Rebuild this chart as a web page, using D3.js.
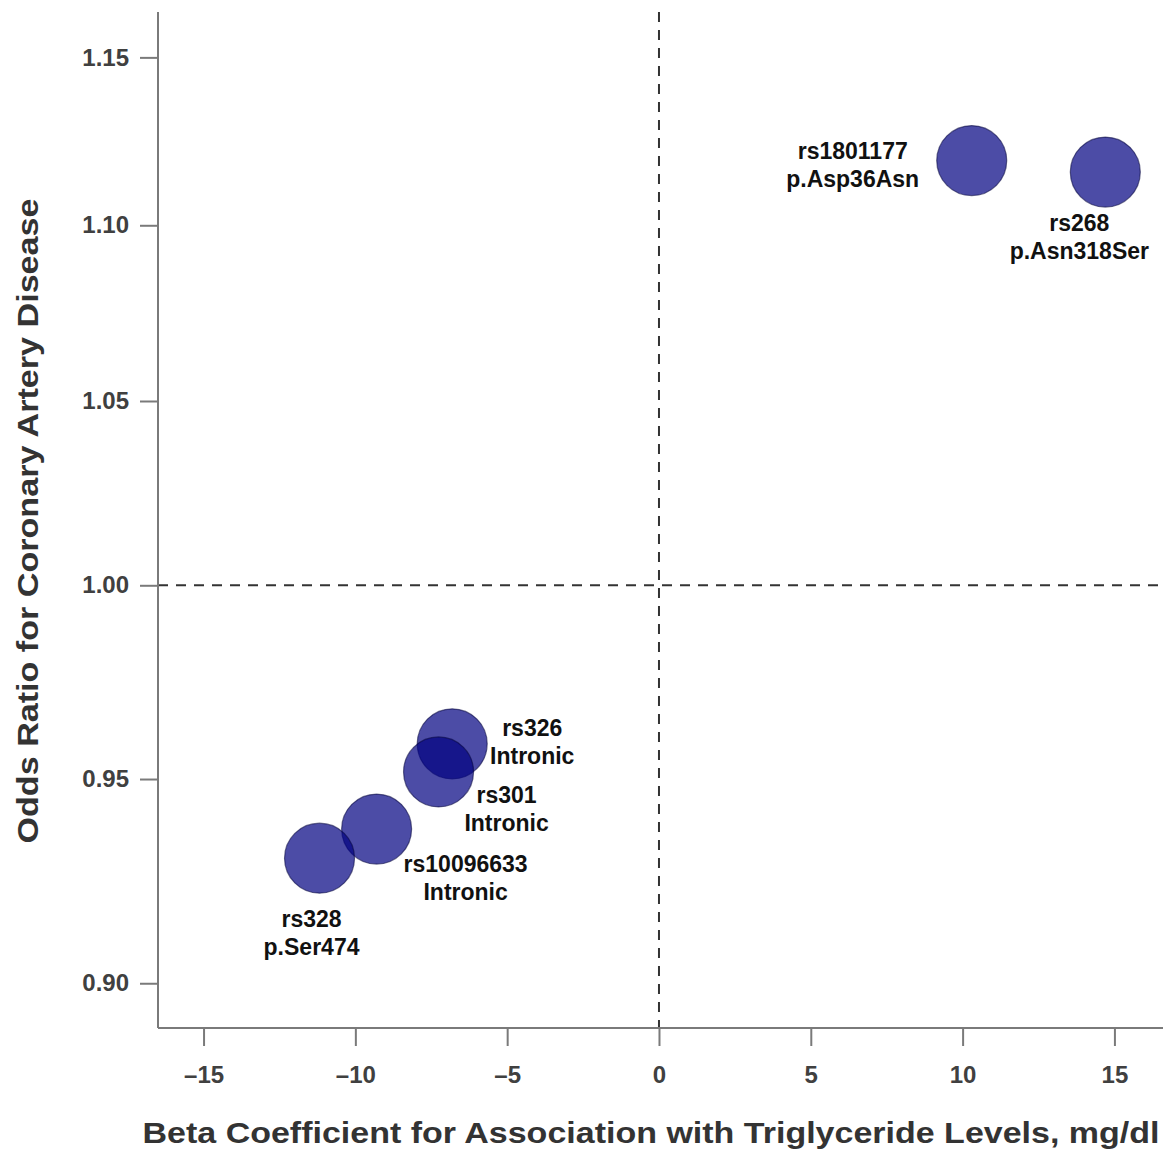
<!DOCTYPE html>
<html>
<head>
<meta charset="utf-8">
<script src="https://cdn.jsdelivr.net/npm/d3@7"></script>
<style>
  html, body { margin: 0; padding: 0; background: #fff; }
  svg { display: block; font-family: "Liberation Sans", Arial, Helvetica, sans-serif; }
</style>
</head>
<body>
<svg id="chart" width="1166" height="1151"></svg>
<script>
// ---- Data ----
const snps = ["rs1801177", "rs268", "rs326", "rs301", "rs10096633", "rs328"];
const annotations = ["p.Asp36Asn", "p.Asn318Ser", "Intronic", "Intronic", "Intronic", "p.Ser474"];
const betaTG = [10.30, 14.70, -6.81, -7.26, -9.30, -11.18];
const oddsCAD = [1.119, 1.1156, 0.9589, 0.9518, 0.9375, 0.9303];
const xTicks = [-15, -10, -5, 0, 5, 10, 15];
const yTicks = [0.90, 0.95, 1.00, 1.05, 1.10, 1.15];
const xTitle = "Beta Coefficient for Association with Triglyceride Levels, mg/dl";
const yTitle = "Odds Ratio for Coronary Artery Disease";

// ---- Layout (label offsets in px relative to point) ----
const labelOffsets = [[-119, -10], [-26, 51], [80, -16], [68, 23], [89, 35], [-8, 61]];

const svg = d3.select("#chart");
const pLeft = 158, pRight = 1163, pTop = 12, pBottom = 1028;

const x = d3.scaleLinear().domain([-16.5, 16.6]).range([pLeft, pRight]);
const y = d3.scaleLog().domain([0.8894, 1.1639]).range([pBottom, pTop]);

// reference lines
svg.append("line")
  .attr("x1", x(0)).attr("x2", x(0)).attr("y1", pTop).attr("y2", pBottom)
  .attr("stroke", "#333").attr("stroke-width", 2).attr("stroke-dasharray", "10,8");
svg.append("line")
  .attr("x1", pLeft).attr("x2", pRight).attr("y1", y(1)).attr("y2", y(1))
  .attr("stroke", "#333").attr("stroke-width", 2).attr("stroke-dasharray", "10,8");

// axes
const fmtX = d => d3.format("d")(d).replace(/[-\u2212]/, "\u2013");
const xAxis = d3.axisBottom(x).tickValues(xTicks).tickSize(18).tickPadding(20).tickFormat(fmtX);
const yAxis = d3.axisLeft(y).tickValues(yTicks).tickSize(18).tickPadding(11).tickFormat(d3.format(".2f"));

const gx = svg.append("g").attr("transform", `translate(0,${pBottom})`).call(xAxis);
const gy = svg.append("g").attr("transform", `translate(${pLeft},0)`).call(yAxis);
[gx, gy].forEach(g => {
  g.select(".domain").attr("stroke", "#7a7a7a").attr("stroke-width", 2);
  g.selectAll(".tick line").attr("stroke", "#7a7a7a").attr("stroke-width", 2);
  g.selectAll(".tick text").attr("fill", "#404040").attr("font-size", 24)
    .attr("font-weight", "bold").attr("font-family", "'Liberation Sans', Arial, sans-serif");
});
gx.select(".domain").attr("d", `M${pLeft},0H${pRight}`);
gy.select(".domain").attr("d", `M0,${pTop}V${pBottom}`);

// points
const pts = snps.map((s, i) => ({ s, a: annotations[i], bx: betaTG[i], or: oddsCAD[i], off: labelOffsets[i] }));
svg.append("g").selectAll("circle").data(pts).join("circle")
  .attr("cx", d => x(d.bx)).attr("cy", d => y(d.or)).attr("r", 35)
  .attr("fill", "#000080").attr("fill-opacity", 0.7)
  .attr("stroke", "#00003a").attr("stroke-opacity", 0.55).attr("stroke-width", 1.2);

// labels
const lab = svg.append("g").selectAll("text").data(pts).join("text")
  .attr("text-anchor", "middle").attr("font-size", 23).attr("font-weight", "bold").attr("fill", "#111")
  .attr("x", d => x(d.bx) + d.off[0]).attr("y", d => y(d.or) + d.off[1]);
lab.append("tspan").attr("x", d => x(d.bx) + d.off[0]).attr("dy", "0.35em").text(d => d.s);
lab.append("tspan").attr("x", d => x(d.bx) + d.off[0]).attr("dy", 28).text(d => d.a);

// titles
svg.append("text").attr("x", 651).attr("y", 1143).attr("text-anchor", "middle")
  .attr("font-size", 30).attr("font-weight", "bold").attr("fill", "#333")
  .attr("textLength", 1017).attr("lengthAdjust", "spacingAndGlyphs").text(xTitle);
svg.append("text").attr("transform", "translate(38,521) rotate(-90)").attr("text-anchor", "middle")
  .attr("font-size", 30).attr("font-weight", "bold").attr("fill", "#333")
  .attr("textLength", 645).attr("lengthAdjust", "spacingAndGlyphs").text(yTitle);
</script>
</body>
</html>
